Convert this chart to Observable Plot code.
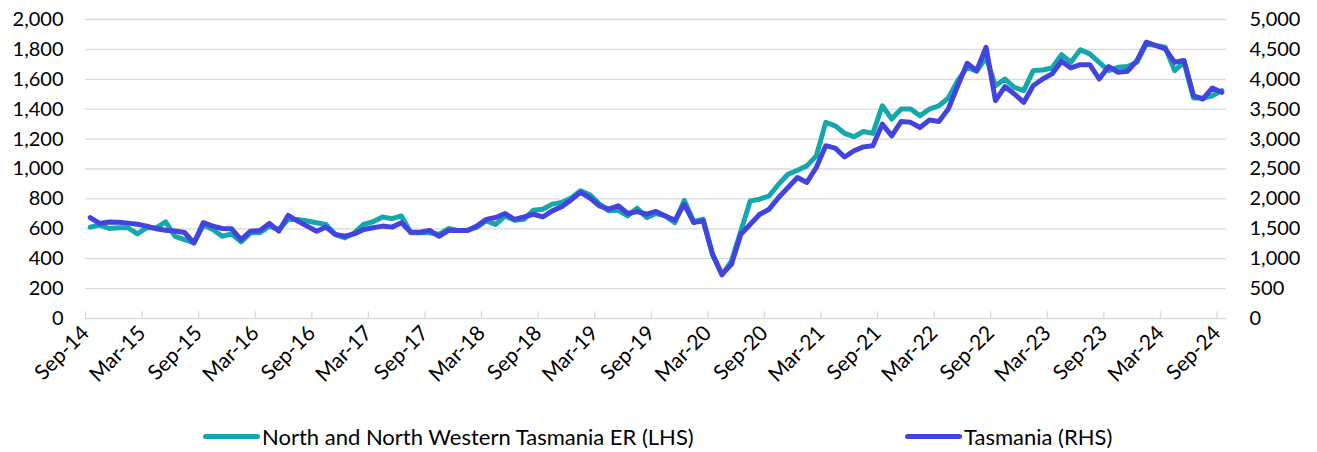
<!DOCTYPE html>
<html>
<head>
<meta charset="utf-8">
<script src="https://cdn.jsdelivr.net/npm/d3@7"></script>
<script src="https://cdn.jsdelivr.net/npm/@observablehq/plot@0.6"></script>
<style>
  body { margin: 0; background: #fff; font-family: Lato, "Open Sans", sans-serif; }
  #wrap { position: relative; width: 1317px; height: 452px; }
  .leg { position: absolute; top: 423px; display: flex; align-items: center; font-size: 22px; color: #000; white-space: nowrap; }
  .sw { display: inline-block; width: 57px; height: 5px; border-radius: 3px; margin-right: 2px; }
</style>
</head>
<body>
<div id="wrap">
  <div id="chart"></div>
  <div class="leg" style="left:203px"><span class="sw" style="background:#14A7AC"></span>North and North Western Tasmania ER (LHS)</div>
  <div class="leg" style="left:905px"><span class="sw" style="background:#4343DE"></span>Tasmania (RHS)</div>
</div>
<script>
// Monthly, Sep-14 .. Sep-24
const xLabels = ["Sep-14","Mar-15","Sep-15","Mar-16","Sep-16","Mar-17","Sep-17","Mar-18","Sep-18","Mar-19","Sep-19","Mar-20","Sep-20","Mar-21","Sep-21","Mar-22","Sep-22","Mar-23","Sep-23","Mar-24","Sep-24"];
const leftTicks = [0,200,400,600,800,1000,1200,1400,1600,1800,2000];
const rightTicks = [0,500,1000,1500,2000,2500,3000,3500,4000,4500,5000];

// North and North Western Tasmania ER (LHS)
const northNW = [
  611,625,602,607,607,566,607,607,647,550,528,505,625,595,550,566,512,573,573,618,
  595,663,663,652,641,629,562,539,573,629,647,679,668,686,573,573,573,562,602,589,
  589,611,652,629,686,657,663,724,731,765,776,806,855,828,765,720,724,686,738,675,
  702,686,641,791,648,664,429,291,384,586,787,798,820,898,965,992,1021,1088,1312,1289,
  1238,1216,1251,1238,1423,1334,1401,1401,1356,1401,1423,1475,1591,1680,1654,1747,1557,1602,1546,1524,
  1658,1662,1676,1765,1714,1797,1770,1714,1658,1680,1685,1714,1837,1826,1814,1658,1714,1475,1475,1490,
  1524
];

// Tasmania (RHS)
const tasmania = [
  1688,1590,1613,1608,1595,1575,1545,1500,1475,1463,1438,1263,1603,1545,1505,1500,1320,1460,1473,1590,
  1460,1725,1630,1545,1460,1528,1405,1375,1415,1488,1518,1545,1528,1603,1443,1443,1473,1375,1473,1473,
  1473,1545,1658,1688,1755,1658,1698,1743,1698,1800,1868,1983,2110,2015,1885,1828,1885,1755,1788,1743,
  1790,1715,1643,1910,1603,1633,1073,738,905,1408,1575,1743,1828,2023,2190,2358,2275,2525,2890,2850,
  2700,2805,2870,2888,3250,3055,3295,3280,3195,3318,3295,3503,3893,4268,4145,4535,3643,3878,3755,3613,
  3893,4005,4090,4303,4190,4245,4245,4005,4213,4118,4135,4313,4620,4565,4508,4285,4313,3725,3670,3855,
  3783
];

const ratio = rightTicks[rightTicks.length-1] / leftTicks[leftTicks.length-1];
const teal = "#14A7AC", blue = "#4343DE", grid = "#d9d9d9";

const dataL = northNW.map((v, i) => ({i, v}));
const dataR = tasmania.map((v, i) => ({i, v: v / ratio}));
const tickPos = xLabels.map((d, k) => k * 6 - 0.5);

const chart = Plot.plot({
  width: 1317,
  height: 410,
  marginLeft: 85,
  marginRight: 91,
  marginTop: 19,
  marginBottom: 92,
  style: { fontFamily: "Lato, 'Open Sans', sans-serif", fontSize: "20px", color: "#000", background: "#fff" },
  x: { type: "linear", domain: [-0.5, 120.5] },
  y: { domain: [0, 2000] },
  marks: [
    Plot.ruleY(leftTicks, { stroke: grid, strokeWidth: 1.3 }),
    Plot.ruleX(tickPos, { y1: 0, y2: 45, stroke: grid, strokeWidth: 1.3 }),
    Plot.axisY({ anchor: "left", ticks: leftTicks, tickSize: 0, tickPadding: 22, tickFormat: d3.format(","), label: null }),
    Plot.axisY({ anchor: "right", ticks: leftTicks, tickSize: 0, tickPadding: 23, tickFormat: d => d3.format(",")(d * ratio), label: null }),
    Plot.axisX({ ticks: tickPos, tickSize: 0, tickPadding: 11, tickRotate: -45, fontSize: 21, tickFormat: d => xLabels[Math.round((d + 0.5) / 6)], label: null }),
    Plot.line(dataL, { x: "i", y: "v", stroke: teal, strokeWidth: 5, strokeLinejoin: "round", strokeLinecap: "round" }),
    Plot.line(dataR, { x: "i", y: "v", stroke: blue, strokeWidth: 5, strokeLinejoin: "round", strokeLinecap: "round" })
  ]
});
document.getElementById("chart").appendChild(chart);
</script>
</body>
</html>
